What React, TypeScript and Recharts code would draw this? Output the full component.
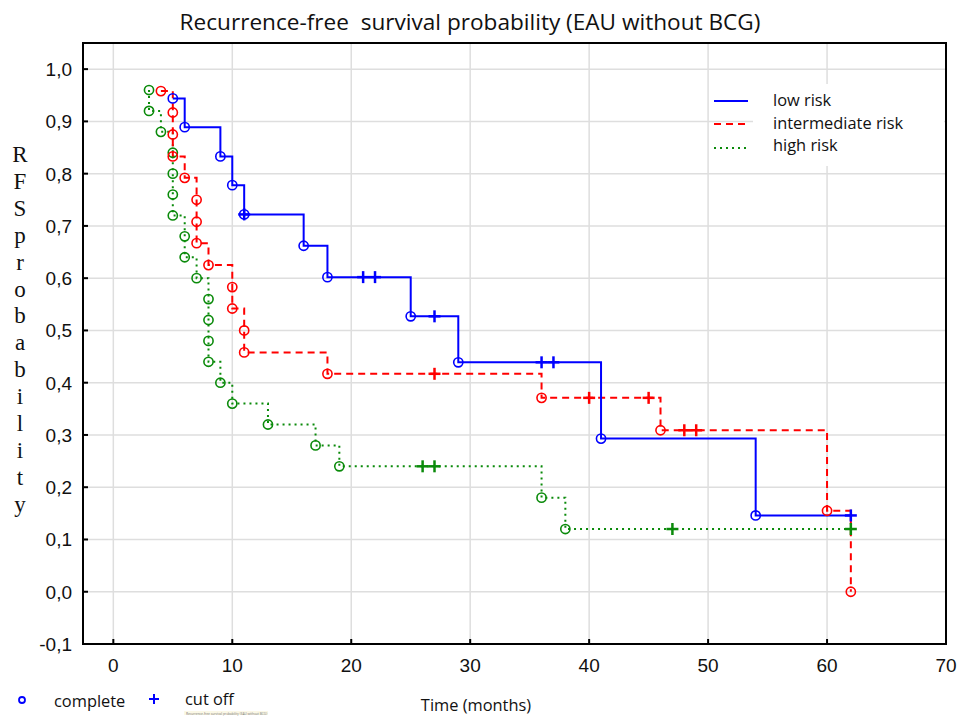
import React from "react";
import { ComposedChart, Line, XAxis, YAxis, CartesianGrid } from "recharts";

const xTicks = [0, 10, 20, 30, 40, 50, 60, 70];
const yTicks = [-0.1, 0, 0.1, 0.2, 0.3, 0.4, 0.5, 0.6, 0.7, 0.8, 0.9, 1.0];

// low risk ("o" = complete, "+" = cut off)
const lowTime = [5, 6, 9, 10, 11, 11, 16, 18, 21, 22, 25, 27, 29, 36, 37, 41, 54, 62];
const lowSurv = [0.944, 0.889, 0.833, 0.778, 0.722, 0.722, 0.662, 0.602, 0.602, 0.602, 0.527, 0.527, 0.439, 0.439, 0.439, 0.293, 0.146, 0.146];
const lowMark = ["o", "o", "o", "o", "o", "+", "o", "o", "+", "+", "o", "+", "o", "+", "+", "o", "o", "+"];

// intermediate risk
const midTime = [4, 5, 5, 5, 6, 7, 7, 7, 8, 10, 10, 11, 11, 18, 27, 36, 40, 45, 46, 48, 49, 60, 62];
const midSurv = [0.958, 0.917, 0.875, 0.833, 0.792, 0.75, 0.708, 0.667, 0.625, 0.583, 0.542, 0.5, 0.458, 0.417, 0.417, 0.371, 0.371, 0.371, 0.309, 0.309, 0.309, 0.155, 0.0];
const midMark = ["o", "o", "o", "o", "o", "o", "o", "o", "o", "o", "o", "o", "o", "o", "+", "o", "+", "+", "o", "+", "+", "o", "o"];

// high risk
const highTime = [3, 3, 4, 5, 5, 5, 5, 6, 6, 7, 8, 8, 8, 8, 9, 10, 13, 17, 19, 26, 27, 36, 38, 47, 62];
const highSurv = [0.96, 0.92, 0.88, 0.84, 0.8, 0.76, 0.72, 0.68, 0.64, 0.6, 0.56, 0.52, 0.48, 0.44, 0.4, 0.36, 0.32, 0.28, 0.24, 0.24, 0.24, 0.18, 0.12, 0.12, 0.12];
const highMark = ["o", "o", "o", "o", "o", "o", "o", "o", "o", "o", "o", "o", "o", "o", "o", "o", "o", "o", "o", "+", "+", "o", "o", "+", "+"];

const BLUE = "#0000ff";
const RED = "#ff0000";
const GREEN = "#0a8a0a";
const SANS = "'Open Sans', sans-serif";
const TICKFONT = "'Liberation Sans', Arial, sans-serif";

const rows = (time: number[], surv: number[], mark: string[]) =>
  time.map((t, i) => ({ t, s: surv[i], m: mark[i] }));

const lowData = rows(lowTime, lowSurv, lowMark);
const midData = rows(midTime, midSurv, midMark);
const highData = rows(highTime, highSurv, highMark);

const fmt = (v: number) => v.toFixed(1).replace(".", ",");

const dotFor = (color: string, id: string) => (p: any) => {
  const { cx, cy, payload, index } = p;
  if (payload.m === "+") {
    return (
      <g key={`${id}-${index}`}>
        <line x1={cx - 6} y1={cy} x2={cx + 6} y2={cy} stroke={color} strokeWidth={2.5} />
        <line x1={cx} y1={cy - 6} x2={cx} y2={cy + 6} stroke={color} strokeWidth={2.5} />
      </g>
    );
  }
  return <circle key={`${id}-${index}`} cx={cx} cy={cy} r={4.6} fill="none" stroke={color} strokeWidth={1.6} />;
};

const BottomTick = (p: any) => (
  <g>
    <line x1={p.x} y1={p.y} x2={p.x} y2={p.y - 5} stroke="#000" strokeWidth={2} />
    <text x={p.x} y={p.y + 28} textAnchor="middle" fontFamily={TICKFONT} fontSize={19} fill="#111">
      {p.payload.value}
    </text>
  </g>
);
const TopTick = (p: any) => (
  <line x1={p.x} y1={p.y} x2={p.x} y2={p.y + 5} stroke="#000" strokeWidth={2} />
);
const LeftTick = (p: any) => (
  <g>
    <line x1={p.x} y1={p.y} x2={p.x + 5} y2={p.y} stroke="#000" strokeWidth={2} />
    <text x={p.x - 11} y={p.y + 7} textAnchor="end" fontFamily={TICKFONT} fontSize={19} fill="#111">
      {fmt(p.payload.value)}
    </text>
  </g>
);
const RightTick = (p: any) => (
  <line x1={p.x} y1={p.y} x2={p.x - 5} y2={p.y} stroke="#000" strokeWidth={2} />
);

const yLabel = "RFSprobability".split("");

const App = () => {
  return (
    <div style={{ position: "absolute", left: 0, top: 0, width: 958, height: 716, background: "#fff" }}>
      <ComposedChart width={958} height={716} margin={{ top: 43, right: 12, bottom: 0, left: 0 }}>
        <CartesianGrid stroke="#dedede" strokeWidth={1.5} />
        <XAxis
          dataKey="t"
          type="number"
          domain={[-2.55, 70]}
          ticks={xTicks}
          interval={0}
          allowDataOverflow
          height={72}
          tickSize={0}
          tickMargin={0}
          tickLine={false}
          axisLine={{ stroke: "#000", strokeWidth: 2 }}
          tick={<BottomTick />}
        />
        <XAxis
          xAxisId="top"
          orientation="top"
          type="number"
          domain={[-2.55, 70]}
          ticks={xTicks}
          interval={0}
          allowDataOverflow
          height={0}
          tickSize={0}
          tickMargin={0}
          tickLine={false}
          axisLine={{ stroke: "#000", strokeWidth: 2 }}
          tick={<TopTick />}
        />
        <YAxis
          type="number"
          domain={[-0.1, 1.05]}
          ticks={yTicks}
          interval={0}
          allowDataOverflow
          width={83}
          tickSize={0}
          tickMargin={0}
          tickLine={false}
          axisLine={{ stroke: "#000", strokeWidth: 2 }}
          tick={<LeftTick />}
        />
        <YAxis
          yAxisId="right"
          orientation="right"
          type="number"
          domain={[-0.1, 1.05]}
          ticks={yTicks}
          interval={0}
          allowDataOverflow
          width={0}
          tickSize={0}
          tickMargin={0}
          tickLine={false}
          axisLine={{ stroke: "#000", strokeWidth: 2 }}
          tick={<RightTick />}
        />
        <Line
          data={highData}
          dataKey="s"
          type="stepAfter"
          stroke={GREEN}
          strokeWidth={2}
          strokeDasharray="2 4"
          dot={dotFor(GREEN, "h")}
          activeDot={false}
          isAnimationActive={false}
        />
        <Line
          data={midData}
          dataKey="s"
          type="stepAfter"
          stroke={RED}
          strokeWidth={2}
          strokeDasharray="7 5"
          dot={dotFor(RED, "m")}
          activeDot={false}
          isAnimationActive={false}
        />
        <Line
          data={lowData}
          dataKey="s"
          type="stepAfter"
          stroke={BLUE}
          strokeWidth={2}
          dot={dotFor(BLUE, "l")}
          activeDot={false}
          isAnimationActive={false}
        />
      </ComposedChart>

      <svg width={958} height={716} style={{ position: "absolute", left: 0, top: 0, pointerEvents: "none" }}>
        {/* plot frame */}
        <rect x={83} y={43} width={863} height={601} fill="none" stroke="#000" strokeWidth={2} />

        <text x={470} y={30} textAnchor="middle" fontFamily={SANS} fontSize={22.6} fill="#111" style={{ whiteSpace: "pre" }}>
          {"Recurrence-free  survival probability (EAU without BCG)"}
        </text>

        {yLabel.map((ch, i) => (
          <text key={i} x={20} y={162 + i * 26.9} textAnchor="middle" fontFamily="'Liberation Serif', serif" fontSize={23} fill="#111">
            {ch}
          </text>
        ))}

        <rect x={753} y={84} width={191} height={82} fill="#fff" />
        <line x1={714} y1={101} x2={748} y2={101} stroke={BLUE} strokeWidth={2} />
        <line x1={714} y1={124} x2={748} y2={124} stroke={RED} strokeWidth={2} strokeDasharray="7 5" />
        <line x1={714} y1={148} x2={748} y2={148} stroke={GREEN} strokeWidth={2} strokeDasharray="2 4" />
        <text x={773} y={106} fontFamily={SANS} fontSize={16.4} fill="#111">low risk</text>
        <text x={773} y={129} fontFamily={SANS} fontSize={16.4} fill="#111">intermediate risk</text>
        <text x={773} y={151} fontFamily={SANS} fontSize={16.4} fill="#111">high risk</text>

        <circle cx={22} cy={700} r={3} fill="none" stroke={BLUE} strokeWidth={1.8} />
        <text x={54} y={707} fontFamily={SANS} fontSize={16.4} fill="#111">complete</text>
        <line x1={149} y1={699} x2={159} y2={699} stroke={BLUE} strokeWidth={2} />
        <line x1={154} y1={694} x2={154} y2={704} stroke={BLUE} strokeWidth={2} />
        <text x={185} y={705} fontFamily={SANS} fontSize={16.4} fill="#111">cut off</text>
        <rect x={184} y={711} width={84} height={4} fill="#fbf8e6" />
        <text x={186} y={714.5} fontFamily={SANS} fontSize={3.2} fill="#777">
          Recurrence-free survival probability (EAU without BCG)
        </text>
        <text x={476} y={711} textAnchor="middle" fontFamily={SANS} fontSize={16.4} fill="#111">Time (months)</text>
      </svg>
    </div>
  );
};

export default App;
